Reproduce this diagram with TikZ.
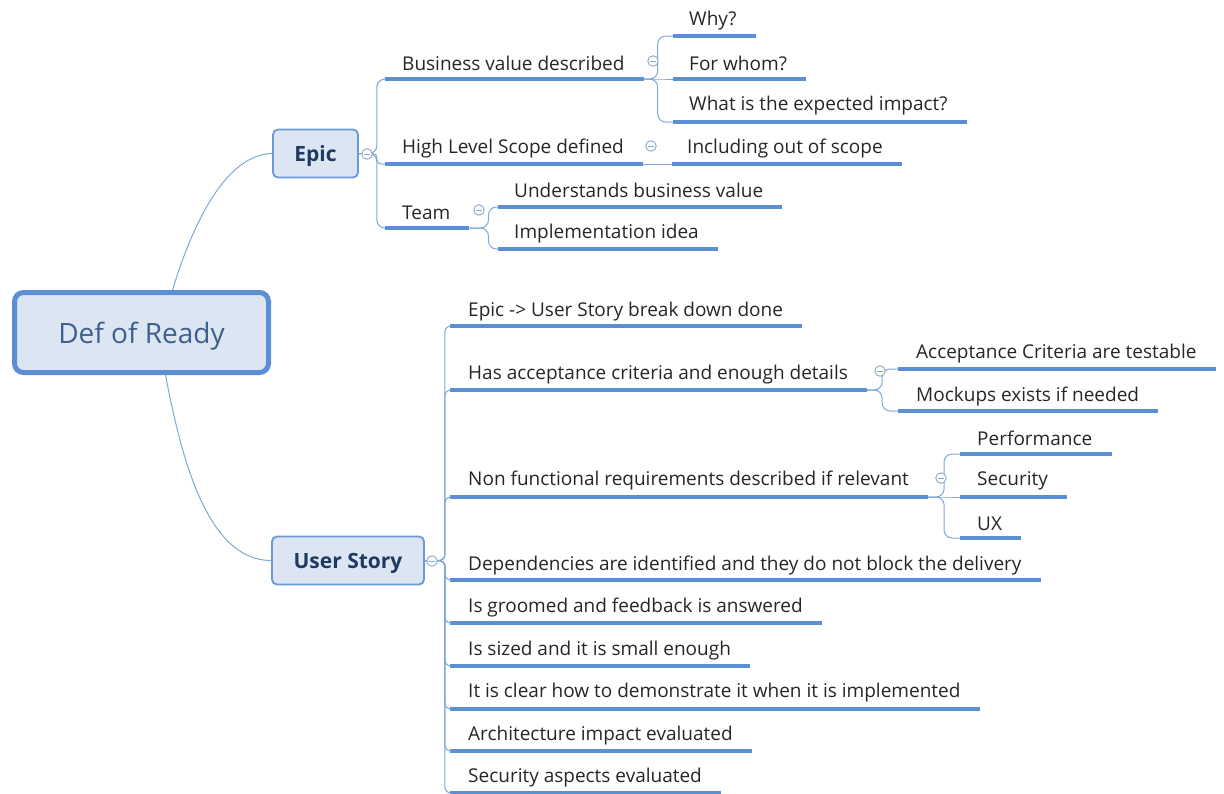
\documentclass[tikz,border=0pt]{standalone}
\usepackage{fontspec}
\setmainfont{Open Sans}
\usetikzlibrary{calc}
\definecolor{ulblue}{HTML}{5B8FD4}
\definecolor{lnblue}{HTML}{7EA6DA}
\definecolor{boxfill}{HTML}{DCE6F2}
\definecolor{boxline}{HTML}{5B8ED2}
\definecolor{roottxt}{HTML}{3F5F8C}
\definecolor{maintxt}{HTML}{1F3A60}
\definecolor{txt}{HTML}{262626}
\definecolor{mkline}{HTML}{8CA6CA}
% underline below a topic: #1 node, #2 start x, #3 y
\newcommand\topicline[3]{%
  \draw[uline] (#2,#3) coordinate (#1-s) -- (#1.east |- 0,#3) -- ++(19,0) coordinate (#1-e);}
\begin{document}
\begin{tikzpicture}[x=1pt,y=-1pt,
  leaf/.style={anchor=west,inner sep=0pt,yshift=-2.5pt,text=txt,font=\fontsize{19}{23}\selectfont},
  uline/.style={draw=ulblue,line width=3.2pt},
  conn/.style={draw=lnblue,line width=1pt,rounded corners=#1},
  conn/.default=8pt,
  rootbox/.style={draw=boxline,fill=boxfill,line width=5pt,rounded corners=9pt,
    minimum width=254pt,minimum height=80pt,text=roottxt,text depth=0pt,
    font=\fontsize{28}{32}\selectfont},
  mainbox/.style={draw=boxline!90,fill=boxfill,line width=1.8pt,rounded corners=5pt,
    minimum height=48pt,text depth=0pt,text=maintxt,font=\fontsize{21}{25}\selectfont\bfseries},
  marker/.style={circle,draw=mkline,fill=white,line width=0.9pt,minimum size=10.5pt,inner sep=0pt,
    path picture={\draw[mkline,line width=0.9pt]
      ([xshift=-2.8pt]path picture bounding box.center) -- ([xshift=2.8pt]path picture bounding box.center);}},
]
\useasboundingbox (0,0) rectangle (1224,793);

% central topic and main branches
\node[rootbox] (root) at (141.5,332.5) {Def of Ready};
\node[mainbox,minimum width=85pt] (epic) at (315.5,153.5) {Epic};
\node[mainbox,minimum width=152pt] (us) at (348,560.5) {User Story};

\draw[conn] (root.north) ++(31,0) coordinate (rootN)
  (rootN) .. controls (200,200) and (235,154) .. (epic.west);
\draw[conn] (root.south) ++(24,0) coordinate (rootS)
  (rootS) .. controls (180,450) and (205,560.5) .. (us.west);

% Epic subtopics
\node[leaf] (bv) at (402,61) {Business value described};
\node[leaf] (hl) at (402,146) {High Level Scope defined};
\node[leaf] (team) at (402,210) {Team};
\topicline{bv}{385}{79}
\topicline{hl}{385}{164}
\topicline{team}{385}{228}

\node[leaf] (why) at (689,18) {Why?};
\node[leaf] (whom) at (689,61) {For whom?};
\node[leaf] (impact) at (689,103) {What is the expected impact?};
\topicline{why}{673}{36}
\topicline{whom}{673}{79}
\topicline{impact}{673}{122}

\node[leaf] (incl) at (687,146) {Including out of scope};
\topicline{incl}{672}{164}

\node[leaf] (und) at (514,188) {Understands business value};
\node[leaf] (impl) at (514,231) {Implementation idea};
\topicline{und}{498}{207}
\topicline{impl}{498}{249}

% User Story subtopics
\node[leaf] (e2us) at (468,309) {Epic -> User Story break down done};
\node[leaf] (acc) at (468,372) {Has acceptance criteria and enough details};
\node[leaf] (nfr) at (468,478) {Non functional requirements described if relevant};
\node[leaf] (dep) at (468,563) {Dependencies are identified and they do not block the delivery};
\node[leaf] (groom) at (468,605) {Is groomed and feedback is answered};
\node[leaf] (size) at (468,648) {Is sized and it is small enough};
\node[leaf] (clear) at (468,690) {It is clear how to demonstrate it when it is implemented};
\node[leaf] (arch) at (468,733) {Architecture impact evaluated};
\node[leaf] (secasp) at (468,775) {Security aspects evaluated};
\topicline{e2us}{450}{326}
\topicline{acc}{450}{390}
\topicline{nfr}{450}{497}
\topicline{dep}{450}{580}
\topicline{groom}{450}{623}
\topicline{size}{450}{666}
\topicline{clear}{450}{709}
\topicline{arch}{450}{751}
\topicline{secasp}{450}{793}

\node[leaf] (act) at (916,351) {Acceptance Criteria are testable};
\node[leaf] (mock) at (916,394) {Mockups exists if needed};
\topicline{act}{898}{369}
\topicline{mock}{898}{411}

\node[leaf] (perf) at (977,436) {Performance};
\node[leaf] (sec) at (977,478) {Security};
\node[leaf] (ux) at (977,521) {UX};
\topicline{perf}{960}{454}
\topicline{sec}{960}{497}
\topicline{ux}{960}{538}

% connectors: Epic
\foreach \c/\r in {bv/8pt,hl/4pt,team/8pt}
  \draw[conn=\r] (epic.east) -- ++(18,0) |- (\c-s);
\foreach \c/\r in {why/8pt,whom/0pt,impact/8pt}
  \draw[conn=\r] (bv-e) -- ++(14,0) |- (\c-s);
\draw[conn] (hl-e) -- (incl-s);
\foreach \c in {und,impl}
  \draw[conn] (team-e) -- ++(19,0) |- (\c-s);

% connectors: User Story
\foreach \c in {e2us,acc,nfr,dep,groom,size,clear,arch,secasp}
  \draw[conn=6pt] (us.east) -- ++(20,0) |- (\c-s);
\foreach \c in {act,mock}
  \draw[conn] (acc-e) -- ++(15,0) |- (\c-s);
\foreach \c/\r in {perf/8pt,sec/0pt,ux/8pt}
  \draw[conn=\r] (nfr-e) -- ++(16,0) |- (\c-s);

% collapse markers
\node[marker] (mEpic) at (367,154) {};
\node[marker] (mUs) at (432,561) {};
\node[marker] (mBv) at (653,61) {};
\node[marker] (mHl) at (651,146) {};
\node[marker] (mTeam) at (479,210) {};
\node[marker] (mAcc) at (880,371) {};
\node[marker] (mNfr) at (941,478) {};
\end{tikzpicture}
\end{document}
